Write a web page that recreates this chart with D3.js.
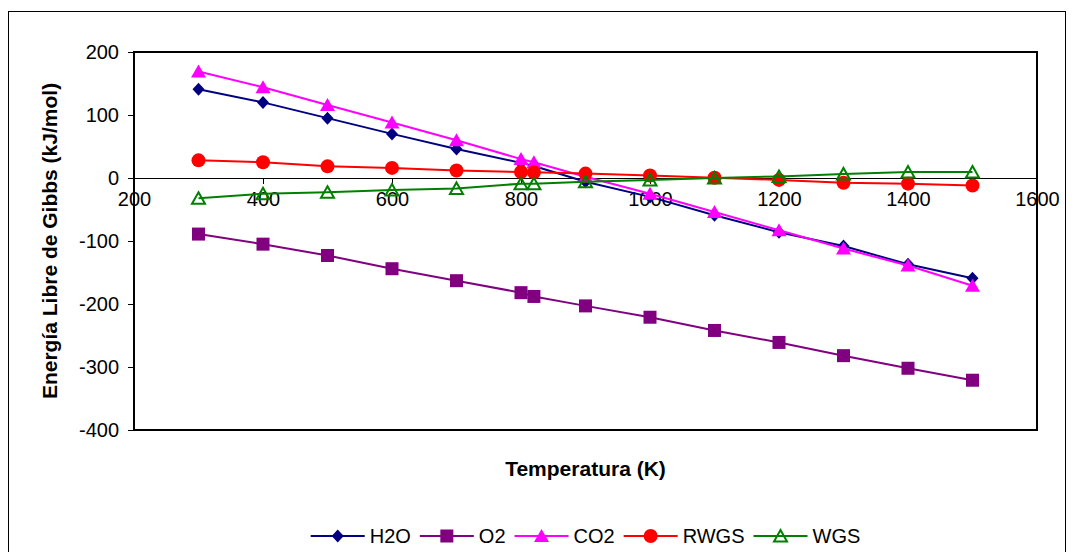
<!DOCTYPE html>
<html>
<head>
<meta charset="utf-8">
<script src="https://cdn.jsdelivr.net/npm/d3@7"></script>
<style>
  body { margin: 0; background: #fff; }
  svg { display: block; }
  text { font-family: "Liberation Sans", Arial, sans-serif; }
</style>
</head>
<body>
<svg id="chart" width="1075" height="552"></svg>
<script>
// Temperatures (K) at which each species / reaction was evaluated
const temperatures = [300, 400, 500, 600, 700, 800, 820, 900, 1000, 1100, 1200, 1300, 1400, 1500];

// Gibbs free energy (kJ/mol)
const h2o  = [141, 120, 95, 70, 46, 24, 19, -6, -30, -59, -86, -108, -137, -159];
const o2   = [-89, -105, -123, -144, -163, -182, -188, -203, -221, -242, -261, -282, -302, -321];
const co2  = [169, 144, 116, 88, 60, 30, 25, 2, -25, -54, -83, -112, -139, -171];
const rwgs = [28, 25, 18.5, 16, 12, 9.5, 9, 7, 4, 0.5, -3, -7.5, -9, -12];
const wgs  = [-32, -25, -22.5, -19, -16.5, -9, -9, -6, -3, 0, 2.5, 6.5, 9.5, 9.5];

const seriesNames = ["H2O", "O2", "CO2", "RWGS", "WGS"];
const seriesValues = [h2o, o2, co2, rwgs, wgs];

const xTicks = [200, 400, 600, 800, 1000, 1200, 1400, 1600];
const yTicks = [-400, -300, -200, -100, 0, 100, 200];

const xTitle = "Temperatura (K)";
const yTitle = "Energía Libre de Gibbs (kJ/mol)";

// ---- appearance ----
const styles = {
  "H2O":  { color: "#000080", marker: "diamond" },
  "O2":   { color: "#800080", marker: "square" },
  "CO2":  { color: "#FF00FF", marker: "triangle" },
  "RWGS": { color: "#FF0000", marker: "circle" },
  "WGS":  { color: "#008000", marker: "openTriangle" }
};

const plot = { left: 134, top: 52, right: 1037, bottom: 430 };

const svg = d3.select("#chart");
svg.append("rect").attr("width", 1075).attr("height", 552).attr("fill", "#fff");

// chart frame
svg.append("rect")
  .attr("x", 8.5).attr("y", 11.5)
  .attr("width", 1057).attr("height", 560)
  .attr("fill", "none").attr("stroke", "#000").attr("stroke-width", 1);

const x = d3.scaleLinear().domain([200, 1600]).range([plot.left, plot.right]);
const y = d3.scaleLinear().domain([-400, 200]).range([plot.bottom, plot.top]);

// marker drawing
function drawMarker(sel, type, color) {
  switch (type) {
    case "diamond":
      sel.append("path").attr("d", "M0,-6.5L6,0L0,6.5L-6,0Z").attr("fill", color);
      break;
    case "square":
      sel.append("rect").attr("x", -6.5).attr("y", -6.5).attr("width", 13).attr("height", 13).attr("fill", color);
      break;
    case "triangle":
      sel.append("path").attr("d", "M0,-7L7.5,6L-7.5,6Z").attr("fill", color);
      break;
    case "circle":
      sel.append("circle").attr("r", 7).attr("fill", color);
      break;
    case "openTriangle":
      sel.append("path").attr("d", "M0,-6L6.5,5.5L-6.5,5.5Z")
        .attr("fill", "none").attr("stroke", color).attr("stroke-width", 2);
      break;
  }
}

// y axis (left)
const yAxis = d3.axisLeft(y).tickValues(yTicks).tickSize(6).tickSizeOuter(0).tickPadding(9)
  .tickFormat(d => String(d));
svg.append("g")
  .attr("transform", `translate(${plot.left},0)`)
  .call(yAxis)
  .call(g => g.attr("font-size", 20).attr("font-family", '"Liberation Sans", Arial, sans-serif'))
  .call(g => g.select(".domain").remove())
  .call(g => g.selectAll(".tick line").attr("stroke", "#000"))
  .call(g => g.selectAll(".tick text").attr("fill", "#000"));

// x axis crossing at zero
const xAxis = d3.axisBottom(x).tickValues(xTicks).tickSize(6).tickSizeOuter(0).tickPadding(8)
  .tickFormat(d => String(d));
svg.append("g")
  .attr("transform", `translate(0,${y(0)})`)
  .call(xAxis)
  .call(g => g.attr("font-size", 20).attr("font-family", '"Liberation Sans", Arial, sans-serif'))
  .call(g => g.select(".domain").attr("stroke", "#000").attr("stroke-width", 1))
  .call(g => g.selectAll(".tick line").attr("stroke", "#000"))
  .call(g => g.selectAll(".tick text").attr("fill", "#000"));

// plot area border
svg.append("rect")
  .attr("x", plot.left).attr("y", plot.top)
  .attr("width", plot.right - plot.left).attr("height", plot.bottom - plot.top)
  .attr("fill", "none").attr("stroke", "#000").attr("stroke-width", 2);

// series
const line = d3.line().x(d => x(d[0])).y(d => y(d[1]));
seriesNames.forEach((name, i) => {
  const st = styles[name];
  const pts = temperatures.map((t, j) => [t, seriesValues[i][j]]);
  const g = svg.append("g");
  g.append("path").datum(pts).attr("d", line)
    .attr("fill", "none").attr("stroke", st.color).attr("stroke-width", 2)
    .attr("stroke-linejoin", "round");
  g.selectAll("g.pt").data(pts).join("g").attr("class", "pt")
    .attr("transform", d => `translate(${x(d[0])},${y(d[1])})`)
    .each(function () { drawMarker(d3.select(this), st.marker, st.color); });
});

// axis titles
svg.append("text")
  .attr("x", (plot.left + plot.right) / 2).attr("y", 476)
  .attr("text-anchor", "middle").attr("font-size", 21).attr("font-weight", "bold")
  .text(xTitle);

svg.append("text")
  .attr("transform", `translate(57,${(plot.top + plot.bottom) / 2}) rotate(-90)`)
  .attr("text-anchor", "middle").attr("font-size", 21).attr("font-weight", "bold")
  .text(yTitle);

// legend
const legend = svg.append("g");
const legendY = 536;
let cursor = 0;
seriesNames.forEach(name => {
  const st = styles[name];
  const item = legend.append("g").attr("transform", `translate(${cursor},${legendY})`);
  item.append("line").attr("x1", 0).attr("x2", 54).attr("y1", 0).attr("y2", 0)
    .attr("stroke", st.color).attr("stroke-width", 2);
  drawMarker(item.append("g").attr("transform", "translate(27,0)"), st.marker, st.color);
  const t = item.append("text").attr("x", 59).attr("y", 7).attr("font-size", 20).text(name);
  cursor += 59 + t.node().getComputedTextLength() + 9;
});
const legendWidth = cursor - 9;
legend.attr("transform", `translate(${(plot.left + plot.right) / 2 - legendWidth / 2},0)`);
</script>
</body>
</html>
